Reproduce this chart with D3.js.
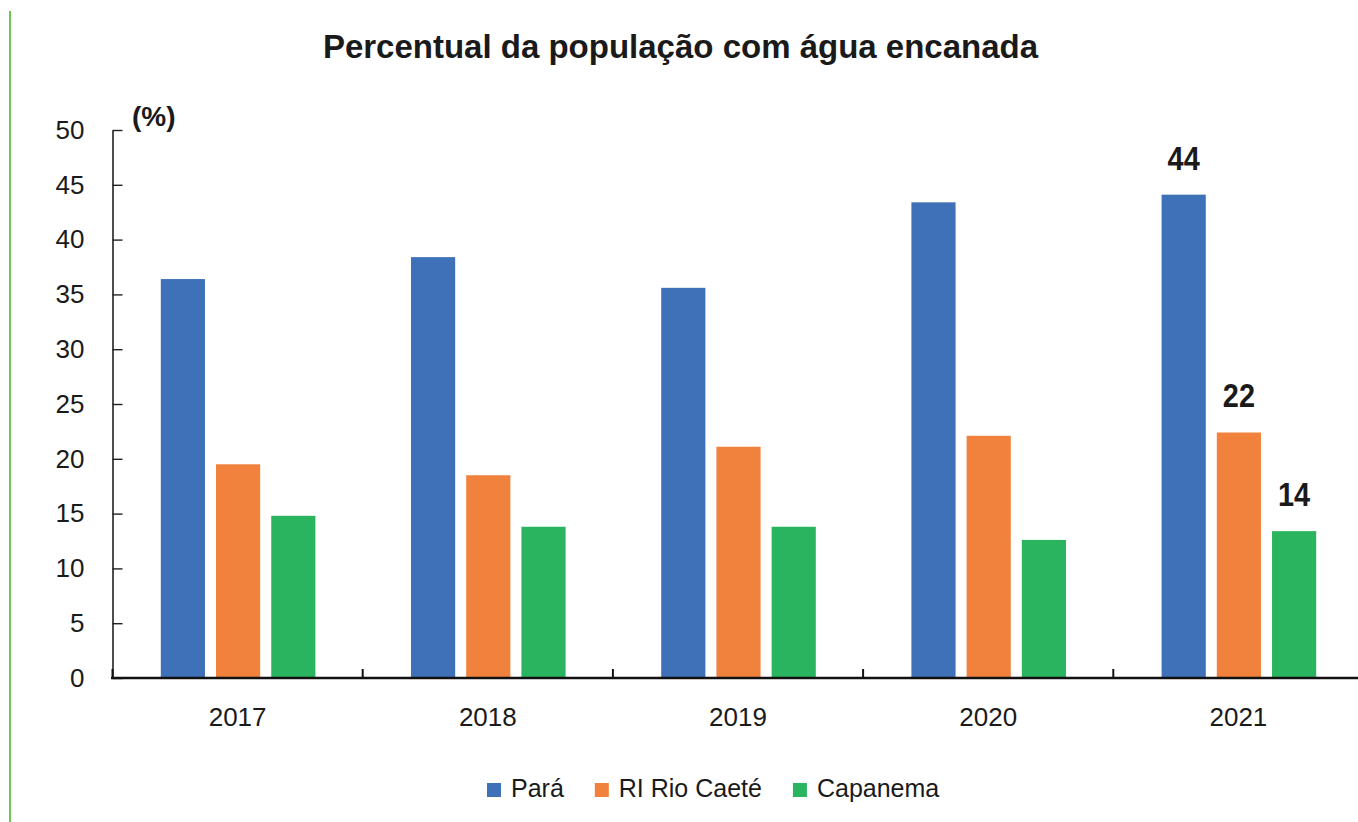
<!DOCTYPE html>
<html>
<head>
<meta charset="utf-8">
<script src="https://cdn.jsdelivr.net/npm/d3@7"></script>
<style>
  html, body { margin: 0; padding: 0; background: #fff; }
  svg { display: block; }
  text { fill: #1a1a1a; }
</style>
</head>
<body>
<svg id="chart" width="1358" height="822"></svg>
<script>
// --- data ---
const years = ["2017", "2018", "2019", "2020", "2021"];
const seriesNames = ["Pará", "RI Rio Caeté", "Capanema"];
const para = [36.4, 38.4, 35.6, 43.4, 44.1];
const riRioCaete = [19.5, 18.5, 21.1, 22.1, 22.4];
const capanema = [14.8, 13.8, 13.8, 12.6, 13.4];
const colors = ["#3f71b8", "#f1823d", "#2bb45f"];
const yTicks = [0, 5, 10, 15, 20, 25, 30, 35, 40, 45, 50];
const labelledYear = "2021";
const labelValues = [44, 22, 14];

const seriesValues = [para, riRioCaete, capanema];

const svg = d3.select("#chart");
const font = "'Liberation Sans', Arial, sans-serif";

// green page border on the left
svg.append("line")
    .attr("x1", 10).attr("x2", 10)
    .attr("y1", 11).attr("y2", 822)
    .attr("stroke", "#6cc550")
    .attr("stroke-width", 2);

// --- scales ---
const y = d3.scaleLinear().domain([0, 50]).range([678, 130]);
const x = d3.scaleBand().domain(years).range([112.5, 112.5 + 250.2 * 5]).padding(0);
const xInner = d3.scaleBand().domain(seriesNames).range([48.3, 202.9]).paddingInner(0.2);

// title
svg.append("text")
    .attr("x", 680.5).attr("y", 58)
    .attr("text-anchor", "middle")
    .style("font-family", font)
    .style("font-weight", "bold")
    .style("font-size", "33px")
    .text("Percentual da população com água encanada");

// bars
const groups = svg.append("g").selectAll("g")
    .data(years)
    .join("g")
    .attr("transform", d => `translate(${x(d)},0)`);

groups.selectAll("rect")
    .data((d, i) => seriesNames.map((s, j) => ({ s, j, v: seriesValues[j][i] })))
    .join("rect")
    .attr("x", d => xInner(d.s))
    .attr("width", xInner.bandwidth())
    .attr("y", d => y(d.v))
    .attr("height", d => y(0) - y(d.v))
    .attr("fill", d => colors[d.j]);

// data labels for last year (condensed bold)
svg.append("g").selectAll("text")
    .data(seriesNames)
    .join("text")
    .attr("transform", (s, j) => {
        const lx = x(labelledYear) + xInner(s) + xInner.bandwidth() / 2;
        const ly = y(seriesValues[j][years.indexOf(labelledYear)]) - 25;
        return `translate(${lx},${ly}) scale(0.85,1)`;
    })
    .attr("text-anchor", "middle")
    .style("font-family", font)
    .style("font-weight", "bold")
    .style("font-size", "34px")
    .text((s, j) => labelValues[j]);

// y axis
const yAxis = svg.append("g")
    .attr("transform", "translate(112.5,0)")
    .call(d3.axisLeft(y).tickValues(yTicks).tickSizeInner(-10).tickSizeOuter(0).tickPadding(28));
yAxis.select(".domain").attr("stroke", "#222").attr("stroke-width", 1.6);
yAxis.selectAll(".tick line").attr("stroke", "#222").attr("stroke-width", 1.4);
yAxis.selectAll(".tick text")
    .style("font-family", font)
    .style("font-size", "26px")
    .attr("fill", "#1a1a1a");

// unit label
svg.append("text")
    .attr("x", 132).attr("y", 126)
    .style("font-family", font)
    .style("font-weight", "bold")
    .style("font-size", "28px")
    .text("(%)");

// x axis
const xAxis = svg.append("g")
    .attr("transform", `translate(0,${y(0)})`)
    .call(d3.axisBottom(x).tickSize(0).tickPadding(30));
xAxis.select(".domain").remove();
xAxis.selectAll(".tick text")
    .style("font-family", font)
    .style("font-size", "26px")
    .attr("fill", "#1a1a1a");

svg.append("line")
    .attr("x1", 111).attr("x2", 1358)
    .attr("y1", y(0)).attr("y2", y(0))
    .attr("stroke", "#111")
    .attr("stroke-width", 2.4);

// category boundary ticks
svg.append("g").selectAll("line")
    .data(years.map(d => x(d)).concat([x.range()[1]]))
    .join("line")
    .attr("x1", d => d).attr("x2", d => d)
    .attr("y1", y(0)).attr("y2", y(0) - 9)
    .attr("stroke", "#111")
    .attr("stroke-width", 2);

// legend
const legend = svg.append("g");
const items = legend.selectAll("g")
    .data(seriesNames)
    .join("g");
items.append("rect")
    .attr("width", 14).attr("height", 14)
    .attr("y", -14)
    .attr("fill", (d, i) => colors[i]);
items.append("text")
    .attr("x", 24)
    .attr("y", 0)
    .style("font-family", font)
    .style("font-size", "25px")
    .text(d => d);

let cx = 487;
items.each(function () {
    const w = d3.select(this).select("text").node().getComputedTextLength();
    d3.select(this).attr("transform", `translate(${cx},797)`);
    cx += 24 + w + 31;
});
</script>
</body>
</html>
